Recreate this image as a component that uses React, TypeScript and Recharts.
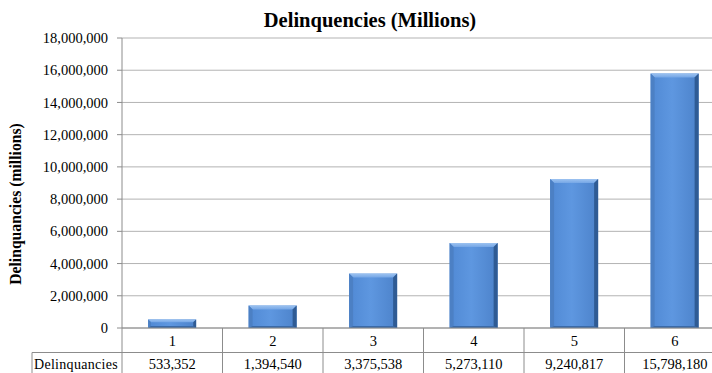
import { BarChart, Bar, XAxis, YAxis, CartesianGrid } from "recharts";

const categories = ["1", "2", "3", "4", "5", "6"];
const delinquencies = [533352, 1394540, 3375538, 5273110, 9240817, 15798180];
const yTicks = [0, 2000000, 4000000, 6000000, 8000000, 10000000, 12000000, 14000000, 16000000, 18000000];
const seriesName = "Delinquancies";

const data = categories.map((c, i) => ({ category: c, value: delinquencies[i] }));

const CHART_W = 740;
const CHART_H = 373;
const Y_AXIS_W = 122;
const PLOT_RIGHT = 15;
const BAND = (CHART_W - Y_AXIS_W - PLOT_RIGHT) / categories.length;
const ROW_H = 24.5;
const FONT = "Liberation Serif";
const TABLE_LINE = "#8c8c8c";
const serif = (size: number, bold = false) => ({
  fontFamily: FONT,
  fontSize: size,
  fontWeight: bold ? 700 : 400,
  fill: "#000",
});

const fmt = (v: number) => v.toLocaleString("en-US");

// category row + data row of the table under the plot
const TableTick = (props: any) => {
  const { x, y, payload } = props;
  const i = props.index ?? payload.index;
  const half = BAND / 2;
  return (
    <g>
      <line x1={x + half} y1={y} x2={x + half} y2={y + 60} stroke={TABLE_LINE} />
      {i === 0 && <line x1={x - half} y1={y} x2={x - half} y2={y + 60} stroke={TABLE_LINE} />}
      <line x1={x - half} y1={y + ROW_H} x2={x + half} y2={y + ROW_H} stroke={TABLE_LINE} />
      <text x={x} y={y + 18} textAnchor="middle" style={serif(14.5)}>
        {payload.value}
      </text>
      <text x={x} y={y + 41} textAnchor="middle" style={serif(14.5)}>
        {fmt(delinquencies[i])}
      </text>
      {i === 0 && (
        <g>
          <line x1={32} y1={y + ROW_H} x2={x - half} y2={y + ROW_H} stroke={TABLE_LINE} />
          <line x1={32} y1={y + ROW_H} x2={32} y2={y + 60} stroke={TABLE_LINE} />
          <text x={34} y={y + 41} style={{ ...serif(14), letterSpacing: 0.3 }}>
            {seriesName}
          </text>
        </g>
      )}
    </g>
  );
};

// bevelled blue column
const BevelBar = (props: any) => {
  const { x, y, width, height } = props;
  if (!height || height <= 0) return null;
  const b = Math.min(4, height / 3);
  const bb = Math.min(2, height / 4);
  return (
    <g>
      <rect x={x} y={y} width={width} height={height} fill="url(#barBody)" />
      <polygon
        points={`${x},${y} ${x + width},${y} ${x + width - b},${y + b} ${x + b},${y + b}`}
        fill="url(#barTop)"
      />
      <polygon
        points={`${x},${y + height} ${x + width},${y + height} ${x + width - bb},${y + height - bb} ${x + bb},${y + height - bb}`}
        fill="#3a6aa8"
      />
      <polygon
        points={`${x},${y} ${x + b},${y + b} ${x + b},${y + height - bb} ${x},${y + height}`}
        fill="#4c80c4"
      />
      <polygon
        points={`${x + width},${y} ${x + width - b},${y + b} ${x + width - b},${y + height - bb} ${x + width},${y + height}`}
        fill="#2f5b94"
      />
    </g>
  );
};

export default function App() {
  return (
    <div style={{ position: "absolute", left: 0, top: 0, width: 712, height: 373, overflow: "hidden", background: "#fff" }}>
      <BarChart
        width={CHART_W}
        height={CHART_H}
        data={data}
        margin={{ top: 38, right: PLOT_RIGHT, left: 0, bottom: 0 }}
        barCategoryGap="26%"
      >
        <defs>
          <linearGradient id="barBody" x1="0" y1="0" x2="1" y2="0">
            <stop offset="0%" stopColor="#5089d4" />
            <stop offset="45%" stopColor="#5e97e0" />
            <stop offset="100%" stopColor="#4c82ca" />
          </linearGradient>
          <linearGradient id="barTop" x1="0" y1="0" x2="0" y2="1">
            <stop offset="0%" stopColor="#9cc2f0" />
            <stop offset="100%" stopColor="#74a6e6" />
          </linearGradient>
        </defs>
        <text x={370} y={27} textAnchor="middle" style={serif(20.5, true)}>
          Delinquencies (Millions)
        </text>
        <text x={21} y={204} transform="rotate(-90 21 204)" textAnchor="middle" style={serif(15.7, true)}>
          Delinquancies (millions)
        </text>
        <CartesianGrid vertical={false} stroke="#b3b3b3" />
        <XAxis
          dataKey="category"
          height={CHART_H - 328}
          axisLine={{ stroke: TABLE_LINE }}
          tickLine={false}
          tickSize={0}
          tickMargin={0}
          interval={0}
          tick={<TableTick />}
        />
        <YAxis
          width={Y_AXIS_W}
          domain={[0, 18000000]}
          ticks={yTicks}
          tickFormatter={fmt}
          axisLine={{ stroke: TABLE_LINE }}
          tickLine={{ stroke: TABLE_LINE }}
          tickSize={5}
          tickMargin={9}
          tick={{ fill: "#000", fontFamily: FONT, fontSize: 14.5 }}
        />
        <Bar dataKey="value" shape={<BevelBar />} isAnimationActive={false} />
      </BarChart>
    </div>
  );
}
